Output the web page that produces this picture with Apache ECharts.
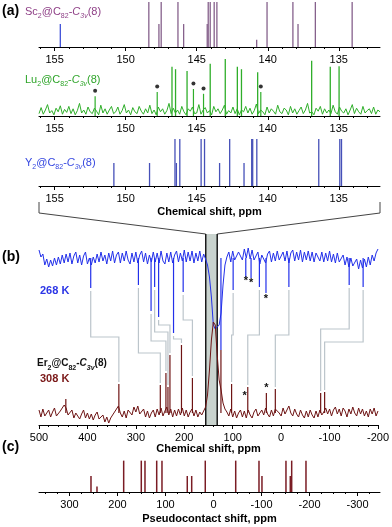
<!DOCTYPE html>
<html>
<head>
<meta charset="utf-8">
<script src="https://cdn.jsdelivr.net/npm/echarts@6/dist/echarts.min.js"></script>
<style>
  html, body { margin: 0; padding: 0; background: #fff; }
  #chart { width: 392px; height: 527px; }
</style>
</head>
<body>
<div id="chart"></div>
<script>
// ---- panel (a): 13C lines, ppm / relative height (%)
var scBluePpm = [154.6];
var scBlueInt = [51];
var scPpm = [148.37, 147.66, 147.5, 146.32, 145.92, 144.26, 144.19, 144.05, 143.77, 143.58, 140.78, 140.05, 138.23, 137.87, 136.65, 134.06];
var scInt = [100, 51, 100, 100, 51, 51, 100, 100, 100, 100, 16, 100, 100, 51, 100, 100];

var luPpm = [146.74, 146.49, 145.68, 144.05, 142.99, 142.14, 141.85, 140.71, 136.91, 135.6, 134.98];
var luInt = [82, 78, 75, 87, 95, 82, 78, 73, 92, 82, 83];
var luImpPpm = [152.15, 147.78, 145.23, 144.52, 140.49];
var luImpInt = [33, 40, 45, 37, 40];
// baseline noise of the Lu spectrum, 156.1 -> 132.1 ppm
var luNoise = [4,14,3,10,19,5,9,2,13,7,17,3,11,6,16,4,12,2,9,21,5,10,3,15,7,4,13,8,2,18,5,12,3,10,16,4,7,15,3,9,
  19,5,10,2,14,7,4,16,8,3,12,5,18,4,10,2,15,7,12,3,9,21,4,13,5,10,3,16,7,2,12,8,15,4,5,19,3,10,14,5,
  9,2,16,7,12,4,10,18,3,9,5,15,4,12,2,10,7,16,5,13,3,9,20,4,10,7,2,15,5,12,8,3,18,7,4,13,10,2,16,5,
  12,3,9,15,4,10,21,5,7,2,13,8,16,3,12,5,10,4,18,7,3,15,8,5,12,2,10,19,4,13,7,3,16,5,9,12,4,15,3,10,7];

var yPpm = [150.83, 148.32, 146.53, 146.43, 146.19, 144.69, 144.45, 143.39, 142.68, 141.67, 141.13, 141.06, 140.77, 136.41, 134.93, 134.81];
var yInt = [49, 49, 100, 49, 100, 100, 100, 49, 100, 49, 100, 100, 100, 100, 100, 100];

var aMin = 132.1, aMax = 156.1;
var aTicks = [155, 150, 145, 140, 135];
var aMinor = [133,134,136,137,138,139,141,142,143,144,146,147,148,149,151,152,153,154,156];

// ---- panel (b): 500 -> -200 ppm, 4 ppm step, intensity (a.u.)
var blue268 = [175,168,171,160,166,158,165,159,167,160,168,161,170,162,171,163,172,161,169,173,
  162,170,160,169,173,161,167,160,168,162,171,163,173,164,170,161,172,164,174,162,
  170,173,162,172,164,174,165,161,172,163,173,162,170,174,163,172,161,170,163,173,
  163,172,162,174,164,161,172,163,173,162,170,174,163,172,164,175,163,173,164,174,
  162,172,164,174,163,171,166,160,148,128,100,96,98,100,112,140,160,168,173,163,
  174,165,163,173,175,165,176,167,177,166,175,165,163,173,161,170,172,162,171,174,
  163,172,164,174,165,163,173,164,174,162,172,175,164,173,165,175,163,173,165,174,
  164,173,163,172,174,164,173,163,172,164,174,163,171,162,172,163,161,170,160,168,
  158,167,159,157,166,156,165,157,166,158,168,160,170,164,172,176];
var red308 = [15,8,16,9,7,15,8,13,17,9,7,14,16,20,17,10,8,15,7,12,
  14,6,11,15,7,12,6,11,5,10,13,6,4,10,3,8,2,7,9,13,
  15,19,12,8,14,7,15,17,10,18,13,19,11,9,16,8,14,7,12,15,
  8,16,10,17,9,14,18,10,16,8,15,9,16,10,17,9,15,8,13,16,
  9,15,8,13,10,14,18,30,55,85,103,100,70,45,35,22,16,13,9,16,
  8,14,7,12,15,8,14,7,15,10,7,13,16,9,8,15,10,17,11,8,
  15,9,16,18,12,9,17,11,15,19,12,9,16,11,8,15,10,7,14,8,
  15,10,7,14,8,15,10,13,17,11,16,9,15,18,11,16,9,17,14,8,
  16,11,18,12,9,17,11,16,9,14,8,16,11,17,9,14];

var blueDipPpm = [393.2, 294.7, 268.6, 261.2, 253.0, 222.2, 202.3, 124.3, 99.1, 73, 62.1, 44.9, 31.3, -16, -140.5, -169.3];
var blueDipLow = [137, 140, 114, 138, 108, 92, 133, 75, 135, 148, 147, 138, 132, 138, 140, 138];
var redPeakPpm = [444.6, 335.1, 249.5, 237.9, 233.7, 229.6, 205.8, 183.2, 124.3, 102.3, 68.9, 30.5, 12, -81.6, -89.8];
var redPeakTop = [26, 41, 40, 52, 38, 70, 80, 47, 75, 41, 38, 32, 36, 32, 33];
// assignment links: blue dip index, red peak index, level of the horizontal run
var linkBlue = [0, 1, 2, 3, 4, 5, 6, 8, 11, 13, 14, 15];
var linkRed = [1, 2, 3, 4, 5, 6, 7, 9, 10, 12, 13, 14];
var linkLevel = [88, 72, 84, 93, 100, 86, 105, 90, 90, 90, 96, 83];
var starPpm = [73, 62.1, 31.3, 75.6, 30.5];
var starInt = [144, 142, 126, 29, 37];
var bandPpm = [155.7, 132];

// ---- panel (c): pseudocontact shifts
var pcsPpm = [255.2, 242.7, 187.1, 150.4, 142.7, 118.3, 107.3, 54.6, 45.4, 17.1, -46.3, -94.8, -101, -151, -160, -162.9, -192.7];
var pcsInt = [50, 17, 98, 98, 98, 98, 98, 50, 50, 98, 98, 98, 50, 98, 50, 98, 98];

var F = 'Arial, "Liberation Sans", Helvetica, sans-serif';
var chart = echarts.init(document.getElementById('chart'));

function range(a, b, step) {
  var out = [];
  for (var v = a; v <= b + 1e-9; v += step) out.push(Math.round(v * 100) / 100);
  return out;
}

function xAxes(g, min, max, majors, minors, name, nameGap) {
  return [{
    type: 'value', gridIndex: g, min: min, max: max, inverse: true, position: 'bottom',
    axisLine: { show: true, lineStyle: { color: '#000', width: 1 } },
    axisTick: { show: true, length: 4, customValues: majors, lineStyle: { color: '#000' } },
    axisLabel: { customValues: majors, margin: 7, fontSize: 11, color: '#000', fontFamily: F },
    splitLine: { show: false },
    name: name, nameLocation: 'middle', nameGap: nameGap,
    nameTextStyle: { fontWeight: 'bold', fontSize: 11, color: '#000', fontFamily: F }
  }, {
    type: 'value', gridIndex: g, min: min, max: max, inverse: true, position: 'bottom',
    axisLine: { show: false },
    axisTick: { show: true, length: 2, customValues: minors, lineStyle: { color: '#000' } },
    axisLabel: { show: false },
    splitLine: { show: false }
  }];
}

function sticks(xi, yi, xs, y0, ys, color, w) {
  return {
    type: 'custom', xAxisIndex: xi, yAxisIndex: yi, silent: true, z: 4,
    data: xs.map(function (x, i) { return [x, Array.isArray(y0) ? y0[i] : y0, ys[i]]; }),
    encode: { x: 0, y: [1, 2] },
    renderItem: function (params, api) {
      var a = api.coord([api.value(0), api.value(1)]);
      var b = api.coord([api.value(0), api.value(2)]);
      return { type: 'line', shape: { x1: a[0], y1: a[1], x2: b[0], y2: b[1] },
        style: { stroke: color, lineWidth: w } };
    }
  };
}

function formulaTitle(el, color, left, top, size, bold) {
  var base = { color: color, fontFamily: F, fontSize: size, lineHeight: 17, verticalAlign: 'bottom', fontWeight: bold ? 'bold' : 'normal' };
  var sub = Object.assign({}, base, { fontSize: Math.round(size * 0.65) });
  return {
    text: '{n|' + el + '}{s|2}{n|@C}{s|82}{n|-}{i|C}{si|3v}{n|(8)}',
    left: left, top: top, padding: 0,
    textStyle: { rich: {
      n: Object.assign({}, base, { verticalAlign: 'middle' }),
      i: Object.assign({}, base, { verticalAlign: 'middle', fontStyle: 'italic' }),
      s: sub,
      si: Object.assign({}, sub, { fontStyle: 'italic' })
    } }
  };
}

function label(text, left, top, size, color, bold) {
  return { text: text, left: left, top: top, padding: 0,
    textStyle: { fontSize: size, color: color, fontFamily: F, fontWeight: bold ? 'bold' : 'normal' } };
}

var luX = luNoise.map(function (v, i) { return aMax - i * (aMax - aMin) / (luNoise.length - 1); });
var bX = blue268.map(function (v, i) { return 500 - 4 * i; });

var xAxis = [].concat(
  xAxes(0, aMin, aMax, aTicks, aMinor, '', 0),
  xAxes(1, aMin, aMax, aTicks, aMinor, '', 0),
  xAxes(2, aMin, aMax, aTicks, aMinor, 'Chemical shift, ppm', 20),
  xAxes(3, -200, 500, range(-200, 500, 100), range(-180, 480, 20), 'Chemical shift, ppm', 16),
  xAxes(4, -346.9, 363.5, [300, 200, 100, 0, -100, -200, -300], range(-325, 350, 25), 'Pseudocontact shift, ppm', 21)
);
var yMax = [100, 100, 100, 191, 100];
var yAxis = yMax.map(function (m, g) { return { type: 'value', gridIndex: g, min: 0, max: m, show: false }; });

var connectors = linkBlue.map(function (b, k) {
  var r = linkRed[k];
  return [blueDipPpm[b], blueDipLow[b] - 3, linkLevel[k], redPeakPpm[r], redPeakTop[r] + 2];
});

var option = {
  animation: false,
  backgroundColor: '#fff',
  grid: [
    { left: 39, right: 12, top: 2, height: 45 },
    { left: 39, right: 12, top: 56, height: 60 },
    { left: 39, right: 12, top: 139, height: 47 },
    { left: 39, right: 12, top: 234, height: 191 },
    { left: 39, right: 12, top: 460, height: 32 }
  ],
  xAxis: xAxis,
  yAxis: yAxis,
  title: [
    label('(a)', 2, 4, 14, '#000', true),
    formulaTitle('Sc', '#8e3f86', 25, 3, 11),
    formulaTitle('Lu', '#2fa52a', 25, 71, 11),
    formulaTitle('Y', '#3547e0', 25, 154, 11),
    label('(b)', 2, 250, 14, '#000', true),
    label('268 K', 40, 285, 11, '#2b35e6', true),
    formulaTitle('Er', '#111', 37, 355, 10, true),
    label('308 K', 40, 373, 11, '#7a1818', true),
    label('(c)', 2, 440, 14, '#000', true)
  ],
  series: [
    sticks(0, 0, scPpm, 0, scInt, '#86618c', 1.3),
    sticks(0, 0, scBluePpm, 0, scBlueInt, '#3f51d8', 1.3),
    {
      type: 'line', xAxisIndex: 2, yAxisIndex: 1, showSymbol: false, silent: true,
      data: luX.map(function (x, i) { return [x, luNoise[i]]; }),
      lineStyle: { color: '#2fae2a', width: 1 }
    },
    sticks(2, 1, luPpm, 0, luInt, '#2fae2a', 1.3),
    sticks(2, 1, luImpPpm, 0, luImpInt, '#2fae2a', 1.2),
    {
      type: 'scatter', xAxisIndex: 2, yAxisIndex: 1, symbolSize: 4, silent: true,
      itemStyle: { color: '#000' },
      data: luImpPpm.map(function (x, i) { return [x, luImpInt[i] + 9]; })
    },
    sticks(4, 2, yPpm, 0, yInt, '#4650b8', 1.3),
    {
      type: 'custom', xAxisIndex: 6, yAxisIndex: 3, silent: true, z: 1,
      data: [[bandPpm[0], bandPpm[1]]],
      encode: { x: [0, 1] },
      renderItem: function (params, api) {
        var a = api.coord([api.value(0), 191]);
        var b = api.coord([api.value(1), 0]);
        return { type: 'group', children: [
          { type: 'rect', shape: { x: a[0], y: a[1], width: b[0] - a[0], height: b[1] - a[1] },
            style: { fill: '#c9d3ce' } },
          { type: 'line', shape: { x1: a[0], y1: a[1], x2: a[0], y2: b[1] }, style: { stroke: '#1a1a1a', lineWidth: 1.5 } },
          { type: 'line', shape: { x1: b[0], y1: a[1], x2: b[0], y2: b[1] }, style: { stroke: '#1a1a1a', lineWidth: 1.5 } }
        ] };
      }
    },
    {
      type: 'custom', xAxisIndex: 6, yAxisIndex: 3, silent: true, z: 2,
      data: connectors,
      encode: { x: [0, 3], y: [1, 2, 4] },
      renderItem: function (params, api) {
        var p = [
          api.coord([api.value(0), api.value(1)]),
          api.coord([api.value(0), api.value(2)]),
          api.coord([api.value(3), api.value(2)]),
          api.coord([api.value(3), api.value(4)])
        ];
        return { type: 'polyline', shape: { points: p }, style: { stroke: '#bcc5cb', lineWidth: 1.2, fill: null } };
      }
    },
    {
      type: 'line', xAxisIndex: 6, yAxisIndex: 3, showSymbol: false, silent: true, z: 3,
      data: bX.map(function (x, i) { return [x, blue268[i]]; }),
      lineStyle: { color: '#2230ea', width: 1 }
    },
    sticks(6, 3, blueDipPpm, 167, blueDipLow, '#2230ea', 1.2),
    {
      type: 'line', xAxisIndex: 6, yAxisIndex: 3, showSymbol: false, silent: true, z: 3,
      data: bX.map(function (x, i) { return [x, red308[i]]; }),
      lineStyle: { color: '#6e1414', width: 1 }
    },
    sticks(6, 3, redPeakPpm, 12, redPeakTop, '#6e1414', 1.2),
    {
      type: 'custom', xAxisIndex: 6, yAxisIndex: 3, silent: true, z: 5,
      data: starPpm.map(function (x, i) { return [x, starInt[i]]; }),
      encode: { x: 0, y: 1 },
      renderItem: function (params, api) {
        var p = api.coord([api.value(0), api.value(1)]);
        return { type: 'text', x: p[0], y: p[1],
          style: { text: '*', fill: '#111', font: 'bold 11px Arial', align: 'center', verticalAlign: 'middle' } };
      }
    },
    sticks(8, 4, pcsPpm, 0, pcsInt, '#7a1c24', 1.5)
  ]
};
chart.setOption(option);

// zoom lines joining panel (a) to the grey band of panel (b)
var xl = chart.convertToPixel({ xAxisIndex: 4 }, aMax);
var xr = chart.convertToPixel({ xAxisIndex: 4 }, aMin);
var yb = chart.convertToPixel({ yAxisIndex: 2 }, 0);
var bl = chart.convertToPixel({ gridIndex: 3 }, [bandPpm[0], 191]);
var br = chart.convertToPixel({ gridIndex: 3 }, [bandPpm[1], 191]);
chart.setOption({
  graphic: [
    { type: 'polyline', shape: { points: [[xl, yb + 16], [xl, yb + 27], bl] }, style: { stroke: '#444', lineWidth: 1, fill: null } },
    { type: 'polyline', shape: { points: [[xr, yb + 16], [xr, yb + 27], br] }, style: { stroke: '#444', lineWidth: 1, fill: null } }
  ]
});
</script>
</body>
</html>
